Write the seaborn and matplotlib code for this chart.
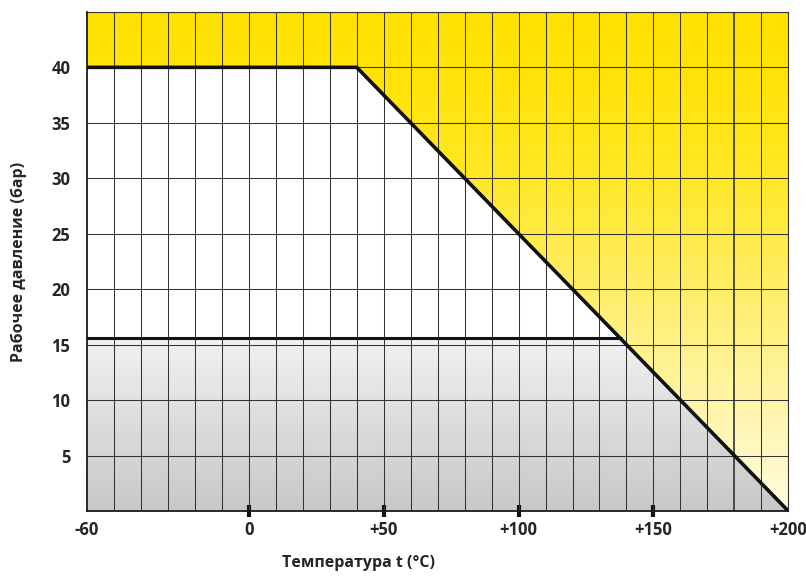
import numpy as np
import pandas as pd
import seaborn as sns
import matplotlib.pyplot as plt
from matplotlib.colors import LinearSegmentedColormap
from matplotlib.patches import Polygon

# working limit: pressure vs temperature
limit_t = [-60, 40, 200]
limit_p = [40, 40, 0]
# lower limit line
low_t = [-60, 138]
low_p = [15.6, 15.6]

x_ticks = [-60, 0, 50, 100, 150, 200]
x_labels = ['-60', '0', '+50', '+100', '+150', '+200']
y_ticks = [5, 10, 15, 20, 25, 30, 35, 40]

sns.set_theme(style='white')
plt.rcParams['font.family'] = ['Open Sans', 'DejaVu Sans']

fig = plt.figure(figsize=(8.06, 5.77), dpi=100)
ax = fig.add_axes([0.108, 0.1144, 0.870, 0.865])
ax.set_xlim(-60, 200)
ax.set_ylim(0, 45)

# yellow gradient above the limit line
yel = LinearSegmentedColormap.from_list('yel', [
    (0.0, '#fffbe0'), (0.25, '#fff4a0'), (0.45, '#ffee66'),
    (0.65, '#ffe82a'), (0.85, '#ffe40a'), (1.0, '#ffe200')])
grad = np.linspace(0, 1, 256).reshape(-1, 1)
im = ax.imshow(grad, extent=[-60, 200, 0, 45], origin='lower', aspect='auto',
               cmap=yel, zorder=0)
clip_y = Polygon([(-60, 45), (-60, 40), (40, 40), (200, 0), (200, 45)],
                 closed=True, transform=ax.transData)
im.set_clip_path(clip_y)

# gray gradient below the lower line
gry = LinearSegmentedColormap.from_list('gry', [
    (0.0, '#c8c8c8'), (0.5, '#dcdcdc'), (1.0, '#f2f2f2')])
grad2 = np.linspace(0, 1, 256).reshape(-1, 1)
im2 = ax.imshow(grad2, extent=[-60, 200, 0, 15.6], origin='lower', aspect='auto',
                cmap=gry, zorder=0)
clip_g = Polygon([(-60, 0), (-60, 15.6), (138, 15.6), (200, 0)],
                 closed=True, transform=ax.transData)
im2.set_clip_path(clip_g)

# grid
for xv in np.arange(-50, 200, 10):
    ax.axvline(xv, color='#333333', lw=0.75 if xv != 180 else 1.2, zorder=1)
for yv in np.arange(5, 46, 5):
    ax.axhline(yv, color='#333333', lw=0.75, zorder=1)

df1 = pd.DataFrame({'t': limit_t, 'p': limit_p})
df2 = pd.DataFrame({'t': low_t, 'p': low_p})
sns.lineplot(data=df1, x='t', y='p', color='#111111', lw=2.6, ax=ax, zorder=3)
sns.lineplot(data=df2, x='t', y='p', color='#111111', lw=2.2, ax=ax, zorder=3)

ax.set_xticks(x_ticks)
ax.set_xticklabels(x_labels, fontsize=12, fontweight='bold')
ax.set_yticks(y_ticks)
ax.set_yticklabels([str(v) for v in y_ticks], fontsize=12, fontweight='bold')
ax.tick_params(axis='x', which='major', direction='inout', length=8, width=3,
               color='#111111', pad=3, bottom=True)
ax.tick_params(axis='x', which='minor', length=0)
ax.tick_params(axis='y', length=0, pad=12)
for tl in ax.xaxis.get_major_ticks():
    if tl.get_loc() in (-60, 200):
        tl.tick1line.set_visible(False)

for side in ['left', 'bottom']:
    ax.spines[side].set_color('#1a1a1a')
    ax.spines[side].set_linewidth(1.3)
for side in ['top', 'right']:
    ax.spines[side].set_color('#333333')
    ax.spines[side].set_linewidth(0.8)

ax.set_xlabel('Температура t (°C)', fontsize=11.5, fontweight='bold')
ax.set_ylabel('Рабочее давление (бар)', fontsize=11.5, fontweight='bold')
ax.xaxis.set_label_coords(0.387, -0.088)
ax.yaxis.set_label_coords(-0.086, 0.5)

fig.savefig('out.png', dpi=100)
